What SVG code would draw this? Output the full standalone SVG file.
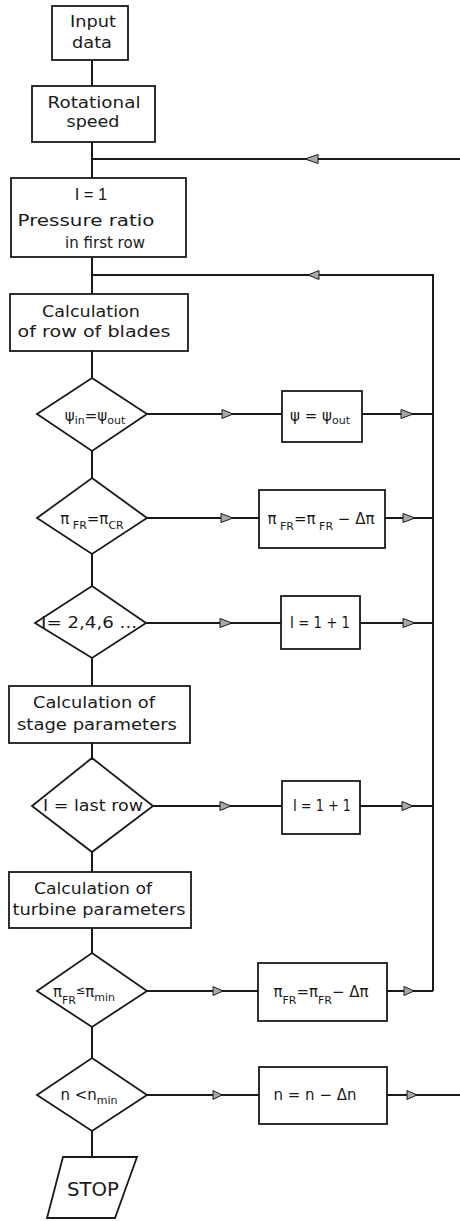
<svg xmlns="http://www.w3.org/2000/svg" width="460" height="1221" viewBox="0 0 460 1221">
<style>
.n{fill:#fff;stroke:#1a1a1a;stroke-width:1.8}
.c{fill:none;stroke:#1a1a1a;stroke-width:2}
.a{fill:#a8a8a8;stroke:#1a1a1a;stroke-width:1}
text{font-family:"DejaVu Sans","Liberation Sans",sans-serif;font-size:15px;fill:#1a1a1a;text-anchor:middle}
.s{font-size:11px}
.st{font-size:19px}
.ls{font-family:"Liberation Sans",sans-serif;font-size:16.5px}
</style>
<rect width="460" height="1221" fill="#fff"/>
<g id="connectors">
<path class="c" d="M92 60V86M92 142V178M92 257V294M92 351V378M92 451V478M92 554V586M92 658V686M92 743V758M92 852V872M92 928V953M92 1027V1058M92 1131V1157"/>
<path class="c" d="M460 159H92M433 991V275H92"/>
<path class="c" d="M147 414H282M362 414H433"/>
<path class="c" d="M147 518H259M385 518H433"/>
<path class="c" d="M146 623H281M360 623H433"/>
<path class="c" d="M153 806H282M360 806H433"/>
<path class="c" d="M147 991H258M387 991H433"/>
<path class="c" d="M147 1095H259M387 1095H460"/>
<polygon class="a" points="305,159 318,154.5 318,163.5"/>
<polygon class="a" points="308,275 319,270.5 319,279.5"/>
<polygon class="a" points="233,414 222,409.5 222,418.5"/>
<polygon class="a" points="413,414 401,409.5 401,418.5"/>
<polygon class="a" points="233,518 221,513.5 221,522.5"/>
<polygon class="a" points="415,518 403,513.5 403,522.5"/>
<polygon class="a" points="232,623 220,618.5 220,627.5"/>
<polygon class="a" points="415,623 403,618.5 403,627.5"/>
<polygon class="a" points="231,806 220,801.5 220,810.5"/>
<polygon class="a" points="413,806 402,801.5 402,810.5"/>
<polygon class="a" points="223,991 213,986.5 213,995.5"/>
<polygon class="a" points="414,991 404,986.5 404,995.5"/>
<polygon class="a" points="222,1095 213,1090.5 213,1099.5"/>
<polygon class="a" points="417,1095 407,1090.5 407,1099.5"/>
</g>
<g id="input">
<rect class="n" x="52" y="6" width="76" height="54"/>
<text x="93" y="27" textLength="46" lengthAdjust="spacingAndGlyphs">Input</text>
<text x="92" y="48" textLength="40" lengthAdjust="spacingAndGlyphs">data</text>
</g>
<g id="rotational">
<rect class="n" x="32" y="86" width="123" height="56"/>
<text x="94" y="108" textLength="93" lengthAdjust="spacingAndGlyphs">Rotational</text>
<text x="93" y="127" textLength="53" lengthAdjust="spacingAndGlyphs">speed</text>
</g>
<g id="init">
<rect class="n" x="11" y="178" width="175" height="79"/>
<text class="ls" x="91" y="200">I = 1</text>
<text x="86" y="226" textLength="137" lengthAdjust="spacingAndGlyphs">Pressure ratio</text>
<text x="105" y="248">in first row</text>
</g>
<g id="calcrow">
<rect class="n" x="10" y="294" width="178" height="57"/>
<text x="91" y="317" textLength="98" lengthAdjust="spacingAndGlyphs">Calculation</text>
<text x="94" y="337" textLength="153" lengthAdjust="spacingAndGlyphs">of row of blades</text>
</g>
<g id="d1">
<polygon class="n" points="92,378 147,414 92,451 37,414"/>
<text x="95" y="421">ψ<tspan class="s" dy="3">in</tspan><tspan dy="-3">=ψ</tspan><tspan class="s" dy="3">out</tspan></text>
</g>
<g id="psi">
<rect class="n" x="282" y="391" width="80" height="51"/>
<text x="320" y="421">ψ = ψ<tspan class="s" dy="3">out</tspan></text>
</g>
<g id="d2">
<polygon class="n" points="92,478 147,518 92,554 37,518"/>
<text x="92" y="524">π<tspan class="s" dy="5"> FR</tspan><tspan dy="-5">=π</tspan><tspan class="s" dy="5">CR</tspan></text>
</g>
<g id="pi1">
<rect class="n" x="259" y="490" width="126" height="58"/>
<text x="321" y="524">π<tspan class="s" dy="6"> FR</tspan><tspan dy="-6">=π</tspan><tspan class="s" dy="6"> FR</tspan><tspan dy="-6"> − Δπ</tspan></text>
</g>
<g id="d3">
<polygon class="n" points="92,586 146,623 92,658 35,623"/>
<text x="89" y="628" textLength="96" lengthAdjust="spacingAndGlyphs">I= 2,4,6 ...</text>
</g>
<g id="inc1">
<rect class="n" x="281" y="596" width="79" height="53"/>
<text x="320" y="628" textLength="60" lengthAdjust="spacingAndGlyphs">I = 1 + 1</text>
</g>
<g id="stage">
<rect class="n" x="9" y="686" width="181" height="57"/>
<text x="94" y="708" textLength="122" lengthAdjust="spacingAndGlyphs">Calculation of</text>
<text x="97" y="730" textLength="160" lengthAdjust="spacingAndGlyphs">stage parameters</text>
</g>
<g id="d4">
<polygon class="n" points="92,758 153,806 92,852 32,806"/>
<text x="93" y="811" textLength="100" lengthAdjust="spacingAndGlyphs">I = last row</text>
</g>
<g id="inc2">
<rect class="n" x="282" y="781" width="78" height="53"/>
<text x="322" y="811" textLength="58" lengthAdjust="spacingAndGlyphs">I = 1 + 1</text>
</g>
<g id="turbine">
<rect class="n" x="9" y="872" width="182" height="56"/>
<text x="93" y="894" textLength="118" lengthAdjust="spacingAndGlyphs">Calculation of</text>
<text x="99" y="915" textLength="173" lengthAdjust="spacingAndGlyphs">turbine parameters</text>
</g>
<g id="d5">
<polygon class="n" points="92,953 147,991 92,1027 37,991"/>
<text x="84" y="997">π<tspan class="s" dy="7">FR</tspan><tspan class="s" dy="-10">≤</tspan><tspan dy="3">π</tspan><tspan class="s" dy="4">min</tspan></text>
</g>
<g id="pi2">
<rect class="n" x="258" y="963" width="129" height="58"/>
<text x="321" y="997">π<tspan class="s" dy="7">FR</tspan><tspan dy="-7">=π</tspan><tspan class="s" dy="7">FR</tspan><tspan dy="-7">− Δπ</tspan></text>
</g>
<g id="d6">
<polygon class="n" points="92,1058 147,1095 92,1131 37,1095"/>
<text x="89" y="1100">n &lt;n<tspan class="s" dy="4">min</tspan></text>
</g>
<g id="ndec">
<rect class="n" x="259" y="1067" width="128" height="57"/>
<text x="315" y="1100">n = n − Δn</text>
</g>
<g id="stop">
<polygon class="n" points="63,1157 137,1157 115,1218 47,1218"/>
<text class="st" x="93" y="1196" textLength="52" lengthAdjust="spacingAndGlyphs">STOP</text>
</g>
</svg>
